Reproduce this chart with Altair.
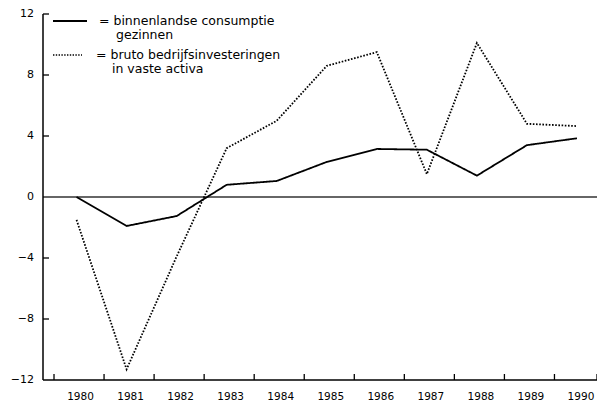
import altair as alt
import pandas as pd

# ---- data ----
years = [1980, 1981, 1982, 1983, 1984, 1985, 1986, 1987, 1988, 1989, 1990]
consumptie = [0.0, -1.9, -1.25, 0.8, 1.05, 2.3, 3.15, 3.1, 1.4, 3.4, 3.85]
investeringen = [-1.5, -11.3, -3.9, 3.2, 5.0, 8.6, 9.5, 1.5, 10.1, 4.8, 4.65]
series_names = ["binnenlandse consumptie gezinnen",
                "bruto bedrijfsinvesteringen in vaste activa"]

y_tick_values = [12, 8, 4, -4, -8]
y_label_values = [12, 8, 4, 0, -4, -8, -12]
y_label_texts = ["12", "8", "4", "0", "\u22124", "\u22128", "\u221212"]
x_tick_values = [1979.55, 1980.55, 1981.55, 1982.55, 1983.55, 1984.55,
                 1985.55, 1986.55, 1987.55, 1988.55, 1989.55]
x_label_texts = ["1980", "1981", "1982", "1983", "1984", "1985",
                 "1986", "1987", "1988", "1989", "1990"]

legend_line1 = ["= binnenlandse consumptie", "gezinnen"]
legend_line2 = ["= bruto bedrijfsinvesteringen", "in vaste activa"]

# ---- layout ----
W, H = 554, 366
FONT = "DejaVu Sans"
xs = alt.Scale(domain=[1979.33, 1990.40], nice=False, zero=False)
ys = alt.Scale(domain=[-12, 12], nice=False, zero=False)

df = pd.DataFrame({
    "jaar": years * 2,
    "waarde": consumptie + investeringen,
    "reeks": [series_names[0]] * len(years) + [series_names[1]] * len(years),
})
one = pd.DataFrame({"a": [0]})

lines = alt.Chart(df).mark_line(color="black", strokeWidth=1.8).encode(
    x=alt.X("jaar:Q", scale=xs, axis=None),
    y=alt.Y("waarde:Q", scale=ys, axis=None),
    strokeDash=alt.StrokeDash("reeks:N",
                              scale=alt.Scale(domain=series_names,
                                              range=[[1, 0], [1.6, 1.6]]),
                              legend=None),
)

zero = alt.Chart(pd.DataFrame({"v": [0]})).mark_rule(color="#333", strokeWidth=1.3).encode(
    y=alt.Y("v:Q", scale=ys, axis=None), x=alt.value(0), x2=alt.value(W)
)

yaxis = alt.Chart(one).mark_rule(color="black", strokeWidth=1.5).encode(
    x=alt.value(0), y=alt.value(0), y2=alt.value(H)
)
xaxis = alt.Chart(one).mark_rule(color="black", strokeWidth=1.5).encode(
    y=alt.value(H), x=alt.value(0), x2=alt.value(W)
)

yticks = alt.Chart(pd.DataFrame({"v": y_tick_values})).mark_rule(color="black", strokeWidth=1.3).encode(
    y=alt.Y("v:Q", scale=ys, axis=None), x=alt.value(0), x2=alt.value(6)
)
xticks = alt.Chart(pd.DataFrame({"v": x_tick_values})).mark_rule(color="black", strokeWidth=1.3).encode(
    x=alt.X("v:Q", scale=xs, axis=None), y=alt.value(H), y2=alt.value(H - 6)
)
xend = alt.Chart(one).mark_rule(color="black", strokeWidth=1.3).encode(
    x=alt.value(W), y=alt.value(H), y2=alt.value(H - 6)
)

ylabels = alt.Chart(pd.DataFrame({"v": y_label_values, "t": y_label_texts})).mark_text(
    align="right", baseline="middle", font=FONT, fontSize=11, color="black"
).encode(y=alt.Y("v:Q", scale=ys, axis=None), x=alt.value(-9), text="t:N")

xlabels = alt.Chart(pd.DataFrame({"v": years, "t": x_label_texts})).mark_text(
    align="center", baseline="middle", font=FONT, fontSize=10.5, color="black", dx=4
).encode(x=alt.X("v:Q", scale=xs, axis=None), y=alt.value(H + 17), text="t:N")

# legend
leg_solid = alt.Chart(one).mark_rule(color="black", strokeWidth=1.8).encode(
    x=alt.value(10), x2=alt.value(44), y=alt.value(7)
)
leg_dot = alt.Chart(one).mark_rule(color="black", strokeWidth=1.6, strokeDash=[1.4, 1.4]).encode(
    x=alt.value(10), x2=alt.value(39), y=alt.value(41)
)

def txt(s, x, y):
    return alt.Chart(one).mark_text(
        align="left", baseline="middle", font=FONT, fontSize=12.5, color="black", text=s
    ).encode(x=alt.value(x), y=alt.value(y))

legend_texts = [
    txt(legend_line1[0], 56, 7),
    txt(legend_line1[1], 73, 21),
    txt(legend_line2[0], 53, 41),
    txt(legend_line2[1], 69, 55),
]

chart = alt.layer(
    zero, lines, yaxis, xaxis, yticks, xticks, xend, ylabels, xlabels,
    leg_solid, leg_dot, *legend_texts
).properties(
    width=W, height=H,
    autosize=alt.AutoSizeParams(type="none"),
    padding={"left": 35, "top": 6, "right": 0, "bottom": 24},
    background="white",
).configure_view(stroke=None)

chart.save("out.html", embed_options={"renderer": "svg", "actions": False})
